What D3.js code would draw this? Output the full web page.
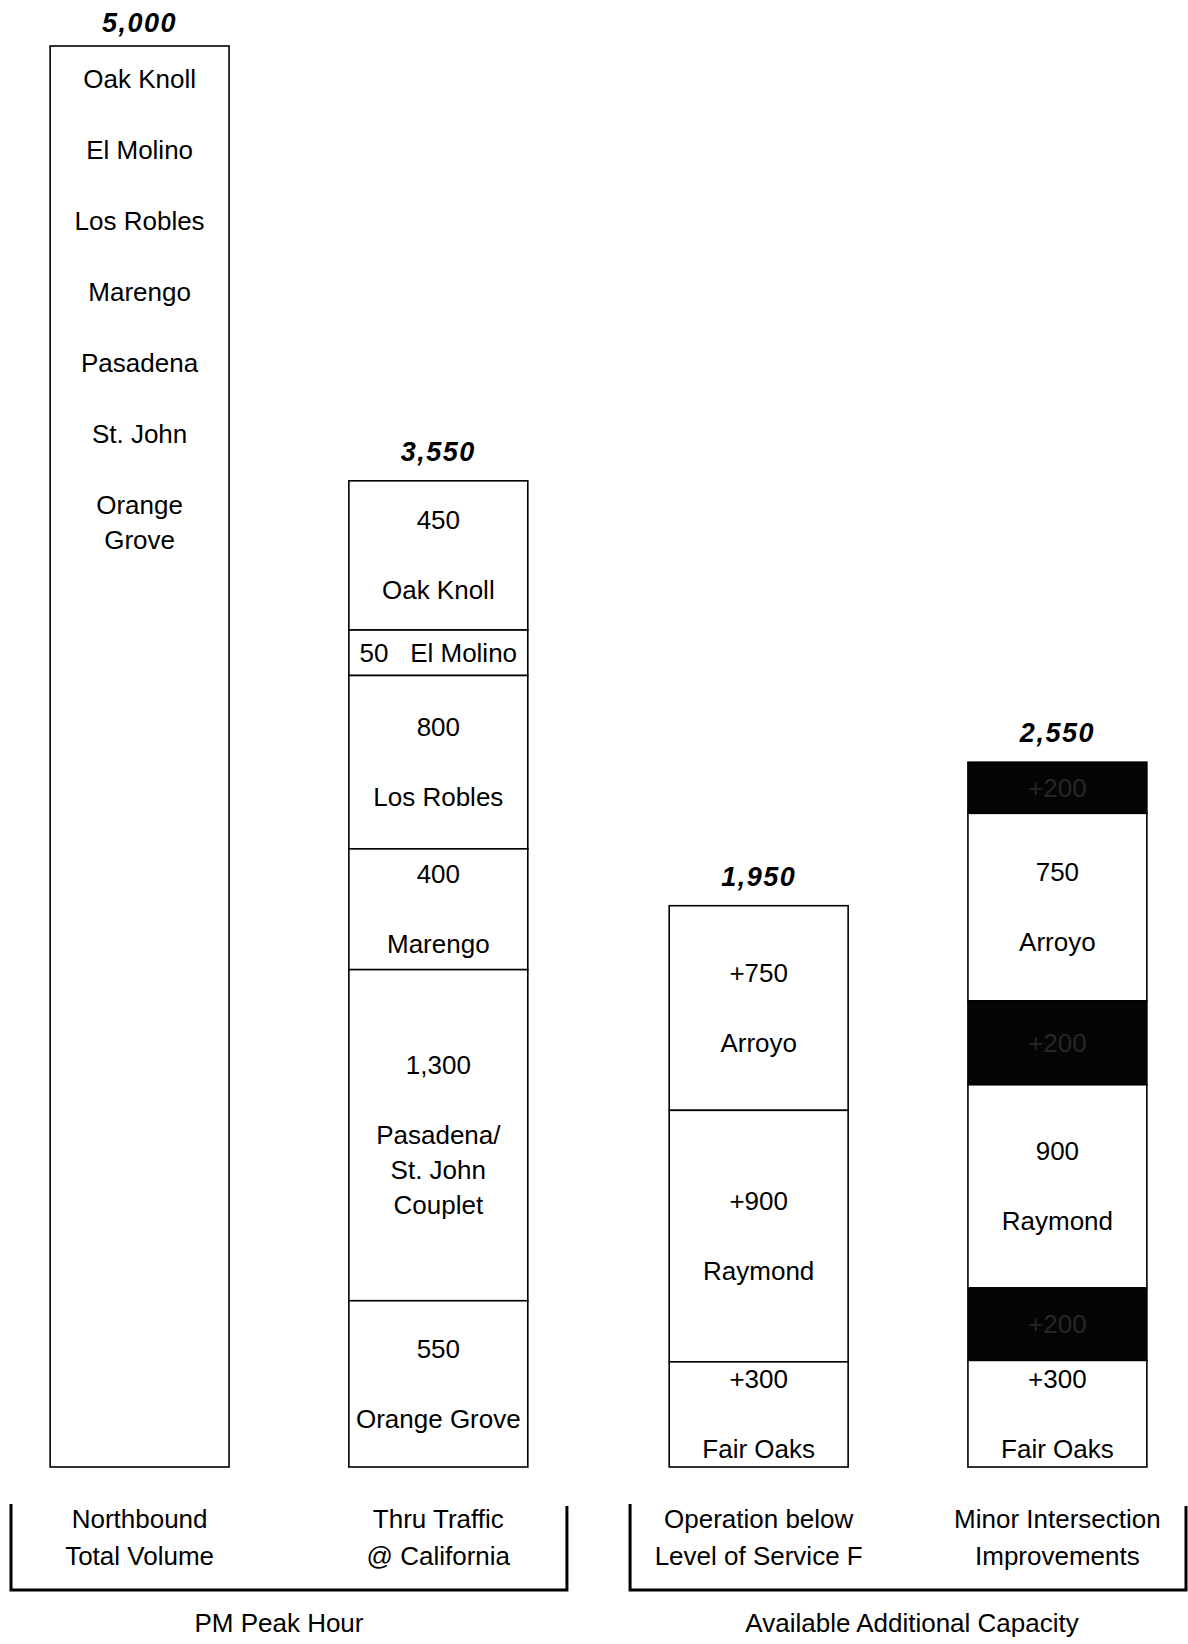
<!DOCTYPE html>
<html>
<head>
<meta charset="utf-8">
<script src="https://cdn.jsdelivr.net/npm/d3@7"></script>
<style>
  html, body { margin: 0; padding: 0; background: #fff; }
  svg { display: block; }
  text { font-family: "Liberation Sans", Arial, sans-serif; fill: #000; }
</style>
</head>
<body>
<svg id="chart" width="1188" height="1644"></svg>
<script>
// ---------------- DATA ----------------
const groups = ["PM Peak Hour", "Available Additional Capacity"];
const columns = ["Northbound Total Volume", "Thru Traffic @ California", "Operation below Level of Service F", "Minor Intersection Improvements"];
const columnLabelLines = [["Northbound", "Total Volume"], ["Thru Traffic", "@ California"], ["Operation below", "Level of Service F"], ["Minor Intersection", "Improvements"]];
const columnGroup = [0, 0, 1, 1];
const totals = [5000, 3550, 1950, 2550];
const totalLabels = ["5,000", "3,550", "1,950", "2,550"];

// Column 1: one block listing the streets
const totalStreets = [["Oak Knoll"], ["El Molino"], ["Los Robles"], ["Marengo"], ["Pasadena"], ["St. John"], ["Orange", "Grove"]];

// Column 2: thru traffic by street
const thruValues = ["450", "50", "800", "400", "1,300", "550"];
const thruNames = [["Oak Knoll"], ["El Molino"], ["Los Robles"], ["Marengo"], ["Pasadena/", "St. John", "Couplet"], ["Orange Grove"]];
const thruDrawn = [525, 160, 610, 425, 1165, 585];   // block extent as drawn (vehicles)

// Column 3: capacity below LOS F
const losValues = ["+750", "+900", "+300"];
const losNames = [["Arroyo"], ["Raymond"], ["Fair Oaks"]];
const losDrawn = [720, 885, 370];

// Column 4: minor intersection improvements (dark = added capacity)
const minorValues = ["+200", "750", "+200", "900", "+200", "+300"];
const minorNames = [[], ["Arroyo"], [], ["Raymond"], [], ["Fair Oaks"]];
const minorDark = [true, false, true, false, true, false];
const minorDrawn = [180, 660, 295, 715, 255, 375];

// ---------------- LAYOUT ----------------
const svg = d3.select("#chart");
const fontSize = 26;
const y = d3.scaleLinear().domain([0, 5000]).range([1467, 46]);

const gx = d3.scaleBand().domain(groups).range([11, 1186]).paddingInner(0.102);
const ix = d3.scaleBand().domain([0, 1]).range([0, gx.bandwidth()]).paddingInner(0.401).paddingOuter(0.131);
const colX = i => gx(groups[columnGroup[i]]) + ix(columns.filter((c, j) => columnGroup[j] === columnGroup[i]).indexOf(columns[i]));
const bw = ix.bandwidth();
const colC = i => colX(i) + bw / 2;

function stack(drawn) {
  let acc = 0;
  const out = drawn.map(d => { const o = { y0: acc, y1: acc + d }; acc += d; return o; });
  const top = acc;
  return out.map(o => ({ top: top - o.y0, bot: top - o.y1 }));
}

// Total labels
const tops = [totals[0], d3.sum(thruDrawn), d3.sum(losDrawn), d3.sum(minorDrawn)];
totals.forEach((t, i) => {
  svg.append("text")
    .attr("x", colC(i)).attr("y", y(tops[i]) - (i === 0 ? 14 : 20))
    .attr("text-anchor", "middle")
    .style("font-size", "27px").style("font-weight", "bold").style("font-style", "italic")
    .style("letter-spacing", "1.5px")
    .text(totalLabels[i]);
});

// Column 1
svg.append("rect").attr("x", colX(0)).attr("y", y(totals[0])).attr("width", bw).attr("height", y(0) - y(totals[0]))
  .attr("fill", "#fff").attr("stroke", "#000").attr("stroke-width", 1.6);
{
  let cy = y(totals[0]) + 33;
  totalStreets.forEach(lines => {
    lines.forEach((ln, k) => {
      svg.append("text").attr("x", colC(0)).attr("y", cy + 9).attr("text-anchor", "middle")
        .style("font-size", fontSize + "px").text(ln);
      if (k < lines.length - 1) cy += 35;
    });
    cy += 71;
  });
}

function drawColumn(i, values, names, drawn, dark) {
  const segs = stack(drawn);
  segs.forEach((s, k) => {
    const y0 = y(s.top), y1 = y(s.bot);
    const isDark = dark ? dark[k] : false;
    svg.append("rect").attr("x", colX(i)).attr("y", y0).attr("width", bw).attr("height", y1 - y0)
      .attr("fill", isDark ? "#050505" : "#fff").attr("stroke", "#000").attr("stroke-width", 1.6);
    const mid = (y0 + y1) / 2;
    const nm = names[k];
    if (!nm.length) {
      svg.append("text").attr("x", colC(i)).attr("y", mid + 9).attr("text-anchor", "middle")
        .style("font-size", fontSize + "px").style("fill", isDark ? "#262626" : "#000").text(values[k]);
      return;
    }
    if (y1 - y0 < 60) {
      svg.append("text").attr("x", colC(i)).attr("y", mid + 9).attr("text-anchor", "middle")
        .attr("xml:space", "preserve").style("white-space", "pre")
        .style("font-size", fontSize + "px").text(values[k] + "   " + nm[0]);
      return;
    }
    const blockH = 70 + (nm.length - 1) * 35;
    let cy = mid - blockH / 2;
    svg.append("text").attr("x", colC(i)).attr("y", cy + 9).attr("text-anchor", "middle")
      .style("font-size", fontSize + "px").text(values[k]);
    cy += 70;
    nm.forEach(ln => {
      svg.append("text").attr("x", colC(i)).attr("y", cy + 9).attr("text-anchor", "middle")
        .style("font-size", fontSize + "px").text(ln);
      cy += 35;
    });
  });
}
drawColumn(1, thruValues, thruNames, thruDrawn, null);
drawColumn(2, losValues, losNames, losDrawn, null);
drawColumn(3, minorValues, minorNames, minorDrawn, minorDark);

// Column labels
columnLabelLines.forEach((lines, i) => {
  lines.forEach((ln, k) => {
    svg.append("text").attr("x", colC(i)).attr("y", 1528 + k * 37).attr("text-anchor", "middle")
      .style("font-size", fontSize + "px").text(ln);
  });
});

// Group brackets + labels
groups.forEach((g, gi) => {
  const x0 = gx(g), x1 = gx(g) + gx.bandwidth();
  const by = 1590;
  svg.append("path")
    .attr("d", `M${x0},1504 L${x0},${by} L${x1},${by} L${x1},1506`)
    .attr("fill", "none").attr("stroke", "#000").attr("stroke-width", 3);
  svg.append("text").attr("x", (x0 + x1) / 2 - (gi === 0 ? 10 : -4)).attr("y", 1632).attr("text-anchor", "middle")
    .style("font-size", fontSize + "px").text(g);
});
</script>
</body>
</html>
